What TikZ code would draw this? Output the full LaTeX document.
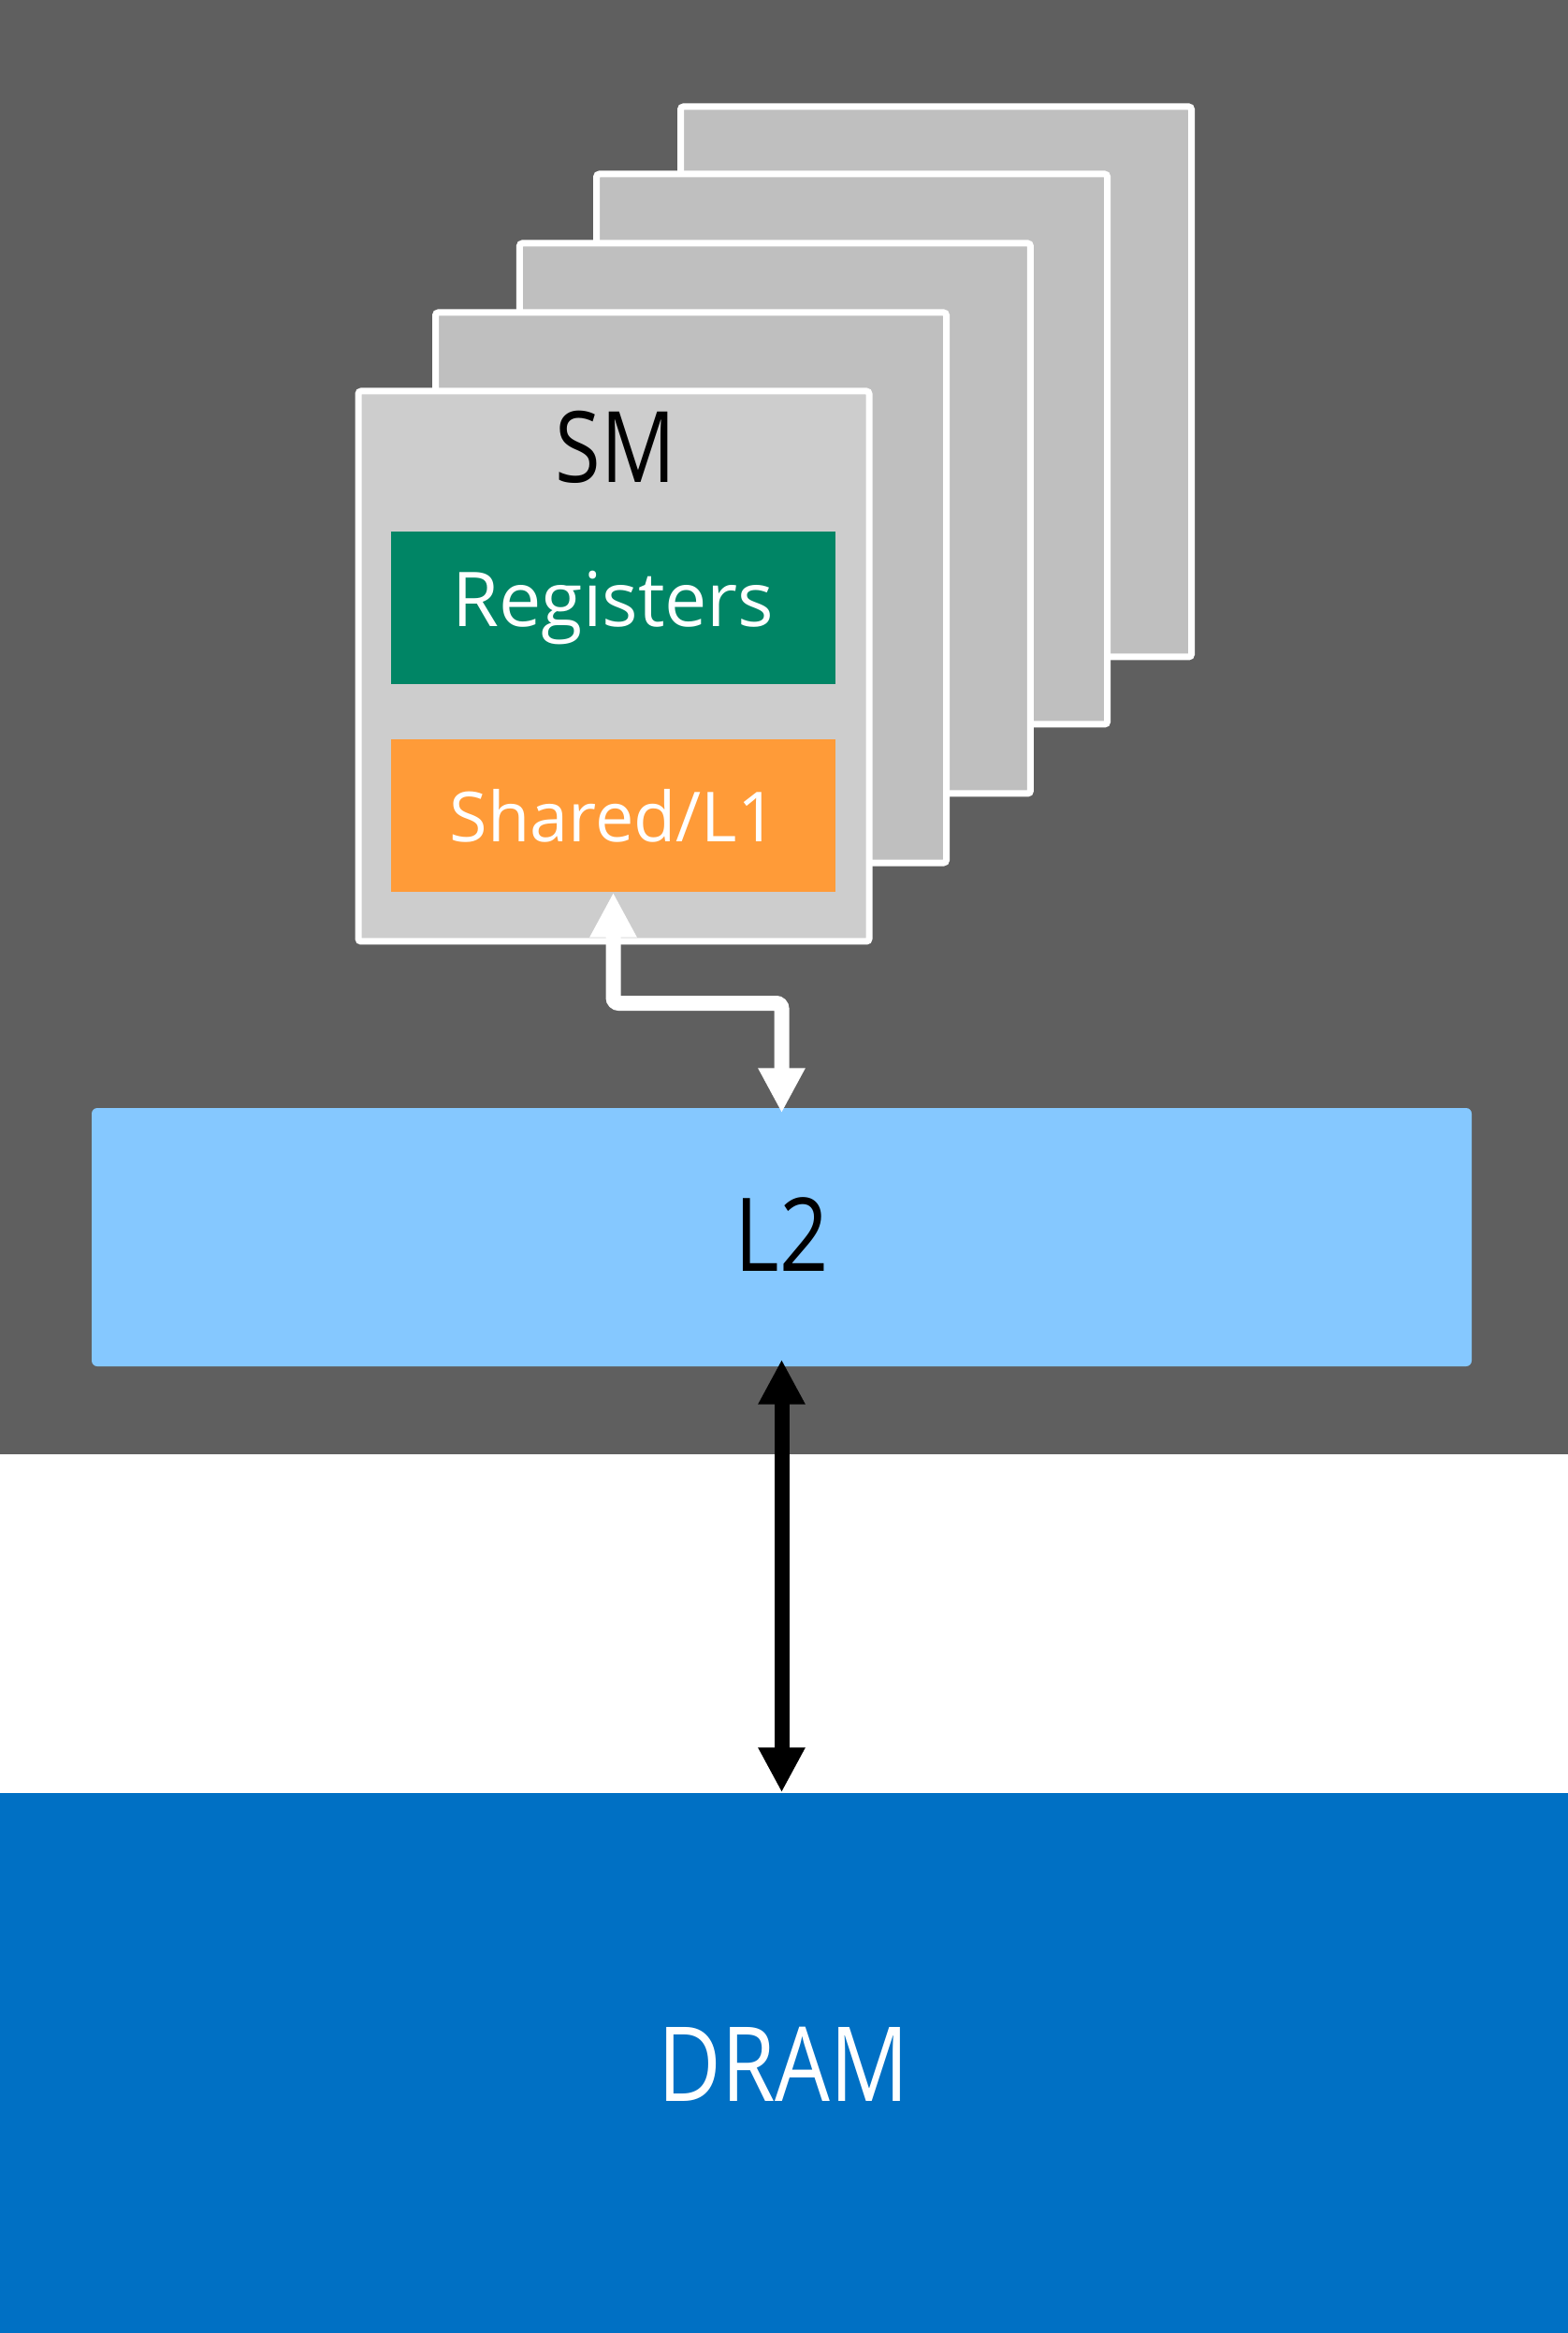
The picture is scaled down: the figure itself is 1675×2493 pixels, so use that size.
\documentclass[tikz,border=0pt]{standalone}
\usepackage{fontspec}
\setmainfont{Open Sans}[FakeStretch=0.84]
\newfontfamily\spacedfont{Open Sans}
\usetikzlibrary{arrows.meta}

\definecolor{chipGray}{RGB}{95,95,95}
\definecolor{smBack}{RGB}{191,191,191}
\definecolor{smFront}{RGB}{205,205,205}
\definecolor{regGreen}{RGB}{0,133,101}
\definecolor{sharedOrange}{RGB}{255,155,56}
\definecolor{ltwoBlue}{RGB}{133,200,255}
\definecolor{dramBlue}{RGB}{0,112,196}

\begin{document}
\begin{tikzpicture}[x=0.1mm, y=-0.1mm,
    smbox/.style={draw=white, line width=0.7mm, rounded corners=0.3mm},
    memblock/.style={minimum width=47.5mm, minimum height=16.3mm, inner sep=0pt, text=white},
    link/.style={line width=1.6mm, {Triangle[length=4.8mm,width=4.7mm]}-{Triangle[length=4.8mm,width=4.7mm]}}]

    % Define parameters
    \def\smW{546}
    \def\smH{588}

    \useasboundingbox (0,0) rectangle (1675,2493);

    % Chip area
    \fill[chipGray] (-10,-10) rectangle (1685,1554);

    % SMs stacked behind the front one
    \foreach \x/\y in {727.5/114, 637.6/186, 555.4/260, 465.5/334} {
        \draw[smbox, fill=smBack] (\x,\y) rectangle ++(\smW,\smH);
    }

    % Front SM
    \node[smbox, fill=smFront, minimum width=54.6mm, minimum height=58.8mm, inner sep=0pt] (sm) at (656,712) {};
    \node[font=\fontsize{30}{36}\selectfont] (smlabel) at (658,478) {SM};
    \node[memblock, fill=regGreen, font=\spacedfont\fontsize{23}{28}\selectfont] (regs) at (655.5,650) {Registers};
    \node[memblock, fill=sharedOrange, font=\spacedfont\fontsize{21}{26}\selectfont] (shared) at (655.5,871.5) {Shared/L1};

    % L2 and DRAM
    \node[fill=ltwoBlue, minimum width=147.5mm, minimum height=27.6mm, rounded corners=0.6mm, inner sep=0pt,
          font=\fontsize{31}{37}\selectfont] (l2) at (835.5,1322) {\raisebox{0.5mm}{L2}};
    \node[fill=dramBlue, text=white, minimum width=169.5mm, minimum height=58.7mm, inner sep=0pt,
          font=\fontsize{31.5}{38}\selectfont] (dram) at (837.5,2209.5) {\raisebox{0.8mm}{DRAM}};

    % Connections
    \coordinate (bend) at (750,1072);
    \draw[link, white, rounded corners=0.6mm, shorten >=-0.6mm] (shared.south) |- (bend) -| (l2.north);
    \draw[link, black, shorten <=-0.8mm] (l2.south) -- (l2.south |- dram.north);

\end{tikzpicture}
\end{document}
